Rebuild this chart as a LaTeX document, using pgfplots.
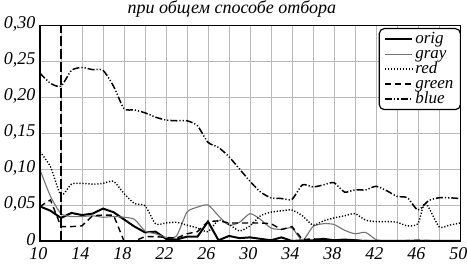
\documentclass[border=0pt]{standalone}
\usepackage{fontspec}
\setmainfont{Liberation Serif}
\usepackage{pgfplots}
\pgfplotsset{compat=1.18}
\usepackage{pgfplotstable}
\pgfplotstableread{
x y
10 0.048
11 0.042
12 0.032
13 0.039
14 0.036
15 0.038
16 0.045
17 0.040
18 0.030
19 0.020
20 0.012
21 0.013
22 0.003
23 0.002
24 0.006
25 0.006
26 0.027
27 0.001
28 0.007
29 0.004
30 0.005
31 0.003
32 0.001
33 0.005
34 0.000
35 0.001
36 0.001
37 0.003
38 0.001
39 0.002
40 0.001
41 0.000
42 0.000
44 0.000
46 0.000
48 0.000
50 0.000
}\origdata
\pgfplotstableread{
x y
10 0.099
11 0.062
12 0.038
13 0.034
14 0.034
15 0.035
16 0.033
17 0.034
18 0.033
19 0.030
20 0.014
21 0.010
22 0.005
23 0.007
24 0.040
25 0.047
26 0.050
27 0.035
28 0.022
29 0.026
30 0.038
31 0.030
32 0.018
33 0.016
34 0.018
35 0.001
36 0.020
37 0.024
38 0.023
39 0.015
40 0.010
41 0.012
42 0.002
43 0.000
44 0.000
46 0.001
48 0.000
50 0.000
}\graydata
\pgfplotstableread{
x y
10 0.124
11 0.103
12 0.064
13 0.079
14 0.080
15 0.079
16 0.080
17 0.083
18 0.066
19 0.052
20 0.049
21 0.024
22 0.025
23 0.026
24 0.022
25 0.018
26 0.013
27 0.029
28 0.023
29 0.014
30 0.021
31 0.035
32 0.040
33 0.042
34 0.043
35 0.035
36 0.022
37 0.028
38 0.032
39 0.035
40 0.038
41 0.029
42 0.027
43 0.027
44 0.026
45 0.021
46 0.024
46.7 0.053
48 0.020
49 0.022
50 0.025
}\reddata
\pgfplotstableread{
x y
10 0.048
11 0.057
12 0.020
13 0.020
14 0.021
15 0.035
16 0.036
17 0.036
18 0.000
19 0.000
20 0.006
21 0.006
22 0.005
23 0.004
24 0.010
25 0.013
26 0.027
27 0.028
28 0.025
29 0.025
30 0.025
31 0.025
32 0.024
33 0.016
34 0.020
35 0.002
36 0.003
37 0.002
38 0.001
40 0.001
42 0.000
44 0.000
46 0.001
48 0.000
50 0.000
}\greendata
\pgfplotstableread{
x y
10 0.233
11 0.219
12 0.215
13 0.237
14 0.241
15 0.238
16 0.237
17 0.215
18 0.184
19 0.182
20 0.178
21 0.172
22 0.168
23 0.167
24 0.167
25 0.160
26 0.137
27 0.130
28 0.117
29 0.100
30 0.083
31 0.068
32 0.060
33 0.059
34 0.058
35 0.078
36 0.075
37 0.078
38 0.081
39 0.068
40 0.071
41 0.071
42 0.076
43 0.070
44 0.062
45 0.060
46 0.043
47 0.056
48 0.060
49 0.060
50 0.059
}\bluedata
\begin{document}
\begin{tikzpicture}
\path[use as bounding box] (-40pt,-23pt) rectangle (427pt,241pt);
\begin{axis}[
  scale only axis,
  width=420pt, height=216pt,
  at={(0pt,0pt)}, anchor=south west,
  xmin=10, xmax=50, ymin=0, ymax=0.30,
  xtick={10,14,...,50},
  xticklabels={\textit{10},\textit{14},\textit{18},\textit{22},\textit{26},\textit{30},\textit{34},\textit{38},\textit{42},\textit{46},\textit{50}},
  minor xtick={12,16,...,48},
  ytick={0,0.05,0.10,0.15,0.20,0.25,0.30},
  yticklabels={\textit{0},\textit{0,05},\textit{0,10},\textit{0,15},\textit{0,20},\textit{0,25},\textit{0,30}},
  grid=both,
  major grid style={gray!55, line width=0.8pt},
  minor grid style={gray!55, line width=0.8pt},
  major tick length=0pt, minor tick length=0pt,
  tick label style={font=\fontsize{18}{18}\selectfont\itshape},
  yticklabel style={xshift=-1pt, yshift=1pt},
  xticklabel style={yshift=-3.5pt, xshift=-1.5pt},
  axis line style={black, line width=0.9pt},
  legend style={at={(1,1)}, anchor=north east, xshift=1pt, yshift=-3pt,
    draw=black, fill=white, line width=1.2pt, rounded corners=5pt,
    font=\fontsize{17}{17}\selectfont\itshape,
    inner xsep=5pt, inner ysep=3pt,
    row sep=0pt,
    nodes={text height=11.5pt, text depth=3.5pt, inner ysep=0pt, inner xsep=2pt},
    cells={anchor=west}},
  legend image code/.code={\draw[#1] (0cm,0cm) -- (0.95cm,0cm);},
  clip=false,
]
\addplot[black, line width=2pt] table {\origdata};
\addlegendentry{orig}
\addplot[gray!90!black, line width=1.1pt, smooth, tension=0.4] table {\graydata};
\addlegendentry{gray}
\addplot[black, line width=1.4pt, dash pattern=on 1.2pt off 1.8pt, smooth, tension=0.4] table {\reddata};
\addlegendentry{red}
\addplot[black, line width=1.4pt, dash pattern=on 6pt off 4pt] table {\greendata};
\addlegendentry{green}
\addplot[black, line width=1.5pt, dash pattern=on 7pt off 2pt on 1.2pt off 2pt on 1.2pt off 2pt, smooth, tension=0.4] table {\bluedata};
\addlegendentry{blue}
\draw[black, line width=2pt, dash pattern=on 10pt off 3pt] (axis cs:12,0) -- (axis cs:12,0.30);
\draw[black, line width=2.2pt] (rel axis cs:0,1) -- (rel axis cs:0,0) -- (rel axis cs:1,0);
\node[anchor=base, font=\fontsize{18}{18}\selectfont\itshape] at (rel axis cs:0.457,1.053) {при общем способе отбора};
\end{axis}
\end{tikzpicture}
\end{document}
